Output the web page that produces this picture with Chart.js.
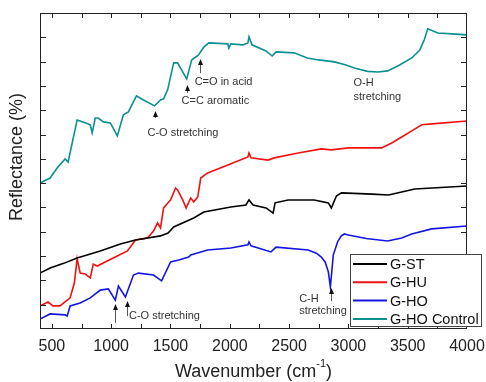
<!DOCTYPE html>
<html>
<head>
<meta charset="utf-8">
<script src="https://cdn.jsdelivr.net/npm/chart.js@4.4.0/dist/chart.umd.min.js"></script>
<style>
  html, body { margin: 0; padding: 0; background: #fff; }
  #wrap { width: 486px; height: 382px; }
</style>
</head>
<body>
<div id="wrap"><canvas id="ftir"></canvas></div>
<script>
// FTIR reflectance spectra, offset for clarity (arbitrary units on y)
const xTickLabels = [500, 1000, 1500, 2000, 2500, 3000, 3500, 4000];
const seriesNames = ['G-ST', 'G-HU', 'G-HO', 'G-HO Control'];
const seriesColors = ['#000000', '#f01010', '#1515e0', '#0a9090'];

const wnST = [400, 485, 600, 713, 908, 1078, 1205, 1416, 1480, 1527, 1696, 1781, 2009, 2136, 2162, 2196, 2306, 2365, 2382, 2492, 2712, 2831, 2856, 2899, 2941, 3200, 3339, 3449, 3559, 4000];
const rST  = [2.30, 2.51, 2.70, 2.92, 3.21, 3.50, 3.66, 3.83, 3.95, 4.20, 4.57, 4.81, 5.02, 5.10, 5.31, 5.10, 4.98, 4.77, 5.19, 5.31, 5.31, 5.19, 4.98, 5.47, 5.60, 5.55, 5.51, 5.64, 5.76, 5.88];

const wnHU = [400, 468, 510, 569, 654, 690, 713, 739, 781, 824, 849, 883, 967, 1052, 1137, 1205, 1306, 1357, 1391, 1416, 1442, 1501, 1543, 1560, 1603, 1632, 1671, 1696, 1730, 1755, 1814, 1984, 2153, 2162, 2179, 2323, 2374, 2577, 2772, 2856, 3000, 3280, 3365, 3450, 3534, 3619, 3703, 4000];
const rHU  = [0.95, 1.11, 0.95, 0.95, 1.28, 1.90, 2.88, 2.30, 2.26, 2.10, 2.67, 2.59, 2.80, 3.00, 3.21, 3.66, 3.74, 4.03, 4.36, 4.16, 4.98, 5.31, 5.80, 5.72, 5.31, 4.98, 5.39, 5.23, 5.43, 6.21, 6.42, 6.75, 7.08, 7.24, 7.04, 6.95, 7.04, 7.24, 7.41, 7.37, 7.45, 7.45, 7.65, 7.90, 8.15, 8.40, 8.44, 8.56];

const wnHO = [400, 485, 612, 629, 654, 739, 824, 908, 976, 1035, 1061, 1120, 1188, 1230, 1357, 1425, 1501, 1569, 1654, 1671, 1814, 2009, 2153, 2162, 2179, 2348, 2390, 2661, 2730, 2772, 2805, 2831, 2848, 2873, 2910, 2941, 2966, 3000, 3150, 3331, 3449, 3534, 3703, 4000];
const rHO  = [0.41, 0.62, 0.58, 0.53, 0.95, 1.07, 1.28, 1.60, 1.65, 1.19, 1.77, 1.32, 2.22, 2.30, 2.22, 1.98, 2.76, 2.84, 2.96, 3.05, 3.25, 3.33, 3.46, 3.58, 3.42, 3.17, 3.37, 3.25, 3.12, 2.96, 2.75, 2.35, 1.73, 3.05, 3.60, 3.83, 3.91, 3.87, 3.72, 3.62, 3.74, 3.91, 4.12, 4.24];

const wnCtl = [400, 485, 552, 612, 637, 671, 713, 781, 824, 840, 866, 891, 934, 993, 1052, 1103, 1145, 1213, 1272, 1366, 1416, 1442, 1476, 1527, 1560, 1603, 1637, 1679, 1713, 1738, 1781, 1823, 1984, 1992, 2009, 2111, 2153, 2162, 2187, 2306, 2357, 2390, 2543, 2653, 2750, 2882, 2980, 3051, 3161, 3250, 3331, 3432, 3534, 3602, 3640, 3669, 3754, 3873, 4000];
const rCtl  = [6.01, 6.21, 6.67, 7.00, 6.87, 7.65, 8.60, 8.48, 8.40, 8.07, 8.68, 8.68, 8.52, 8.48, 7.94, 8.81, 8.93, 9.59, 9.42, 9.18, 9.42, 9.47, 9.84, 10.95, 10.95, 10.58, 10.29, 11.07, 11.19, 11.28, 11.60, 11.77, 11.73, 11.56, 11.73, 11.69, 11.77, 12.02, 11.69, 11.44, 11.23, 11.40, 11.36, 11.15, 11.07, 10.99, 10.86, 10.74, 10.60, 10.57, 10.62, 10.86, 11.15, 11.48, 11.90, 12.35, 12.18, 12.14, 12.10];

const FONT = "'Liberation Sans', Arial, sans-serif";

function toPoints(xs, ys) {
  return xs.map((x, i) => ({ x: x, y: ys[i] }));
}

// band assignments: text + arrows in data coordinates (wavenumber, y)
const bandNotes = [
  { lines: ['C-O stretching'], x: 1306, y: [8.07], arrows: [[1366, 8.97, 8.68]] },
  { lines: ['C=C aromatic'], x: 1594, y: [9.38], arrows: [[1637, 10.04, 9.71]] },
  { lines: ['C=O in acid'], x: 1704, y: [10.16], arrows: [[1747, 11.11, 10.53]] },
  { lines: ['O-H', 'stretching'], x: 3043, y: [10.12, 9.55], arrows: [] },
  { lines: ['C-H', 'stretching'], x: 2585, y: [1.23, 0.74], arrows: [[2856, 1.69, 1.15]] },
  { lines: ['C-O stretching'], x: 1150, y: [0.53], arrows: [[1035, 1.03, 0.25], [1137, 1.15, 0.53]] }
];

const decorations = {
  id: 'decorations',
  afterDraw(chart) {
    const ctx = chart.ctx;
    const a = chart.chartArea;
    const xs = chart.scales.x, ys = chart.scales.y;
    ctx.save();

    // frame
    ctx.strokeStyle = '#222';
    ctx.lineWidth = 1;
    ctx.strokeRect(a.left + 0.5, a.top + 0.5, a.right - a.left - 1, a.bottom - a.top - 1);

    // inward ticks, all four sides
    ctx.beginPath();
    for (let v = 500; v < 4000; v += 250) {
      const px = Math.round(xs.getPixelForValue(v)) + 0.5;
      ctx.moveTo(px, a.bottom); ctx.lineTo(px, a.bottom - 5);
      ctx.moveTo(px, a.top); ctx.lineTo(px, a.top + 5);
    }
    for (let v = 1; v < 13; v++) {
      const py = Math.round(ys.getPixelForValue(v)) + 0.5;
      ctx.moveTo(a.left, py); ctx.lineTo(a.left + 6, py);
      ctx.moveTo(a.right, py); ctx.lineTo(a.right - 6, py);
    }
    ctx.stroke();

    // band notes
    ctx.font = '11px ' + FONT;
    ctx.fillStyle = '#333';
    ctx.textBaseline = 'middle';
    ctx.textAlign = 'left';
    bandNotes.forEach(n => {
      n.lines.forEach((t, i) => {
        ctx.fillText(t, xs.getPixelForValue(n.x), ys.getPixelForValue(n.y[i]));
      });
      n.arrows.forEach(ar => {
        const px = Math.round(xs.getPixelForValue(ar[0])) + 0.5;
        const head = ys.getPixelForValue(ar[1]);
        const tail = ys.getPixelForValue(ar[2]);
        ctx.strokeStyle = '#555';
        ctx.beginPath();
        ctx.moveTo(px, head + 4); ctx.lineTo(px, tail);
        ctx.stroke();
        ctx.fillStyle = '#111';
        ctx.beginPath();
        ctx.moveTo(px, head); ctx.lineTo(px - 2.5, head + 6); ctx.lineTo(px + 2.5, head + 6);
        ctx.closePath(); ctx.fill();
        ctx.fillStyle = '#333';
      });
    });

    // axis titles
    ctx.fillStyle = '#222';
    ctx.font = '18px ' + FONT;
    ctx.textAlign = 'left';
    const base = 'Wavenumber (cm';
    const wBase = ctx.measureText(base).width;
    ctx.font = '11px ' + FONT;
    const wSup = ctx.measureText('-1').width;
    ctx.font = '18px ' + FONT;
    const wEnd = ctx.measureText(')').width;
    let tx = (a.left + a.right) / 2 - (wBase + wSup + wEnd) / 2;
    const ty = 372;
    ctx.fillText(base, tx, ty);
    ctx.font = '11px ' + FONT;
    ctx.fillText('-1', tx + wBase, ty - 8);
    ctx.font = '18px ' + FONT;
    ctx.fillText(')', tx + wBase + wSup, ty);

    ctx.save();
    ctx.translate(17, 157);
    ctx.rotate(-Math.PI / 2);
    ctx.textAlign = 'center';
    ctx.fillText('Reflectance (%)', 0, 0);
    ctx.restore();

    // legend box
    ctx.fillStyle = '#fff';
    ctx.fillRect(350, 254, 132, 73);
    ctx.strokeStyle = '#444';
    ctx.strokeRect(350.5, 254.5, 131, 72);
    ctx.font = '14.5px ' + FONT;
    ctx.textAlign = 'left';
    chart.data.datasets.forEach((ds, i) => {
      const ly = 264 + i * 18.3;
      ctx.strokeStyle = ds.borderColor;
      ctx.lineWidth = 2;
      ctx.beginPath();
      ctx.moveTo(353, ly); ctx.lineTo(387, ly);
      ctx.stroke();
      ctx.fillStyle = '#111';
      ctx.fillText(ds.label, 390, ly + 1);
    });
    ctx.restore();
  }
};

const datasets = [
  toPoints(wnST, rST), toPoints(wnHU, rHU), toPoints(wnHO, rHO), toPoints(wnCtl, rCtl)
].map((pts, i) => ({
  label: seriesNames[i],
  data: pts,
  borderColor: seriesColors[i],
  borderWidth: 1.6,
  pointRadius: 0,
  tension: 0,
  fill: false
}));

new Chart(document.getElementById('ftir'), {
  type: 'line',
  data: { datasets: datasets },
  options: {
    responsive: true,
    maintainAspectRatio: false,
    animation: false,
    layout: { padding: { top: 13, right: 19, left: 0, bottom: 0 } },
    plugins: { legend: { display: false }, tooltip: { enabled: false } },
    scales: {
      x: {
        type: 'linear',
        min: 400,
        max: 4000,
        grid: { display: false, drawTicks: false },
        border: { display: false },
        ticks: {
          font: { family: FONT, size: 16 }, color: '#222', padding: 8, maxRotation: 0, autoSkip: false,
          callback: v => String(v)
        },
        afterBuildTicks: s => { s.ticks = xTickLabels.map(v => ({ value: v })); },
        afterFit: s => { s.height = 53; s.paddingRight = 0; }
      },
      y: {
        min: 0,
        max: 13,
        grid: { display: false, drawTicks: false },
        border: { display: false },
        ticks: { display: false },
        afterFit: s => { s.width = 40; }
      }
    }
  },
  plugins: [decorations]
});
</script>
</body>
</html>
